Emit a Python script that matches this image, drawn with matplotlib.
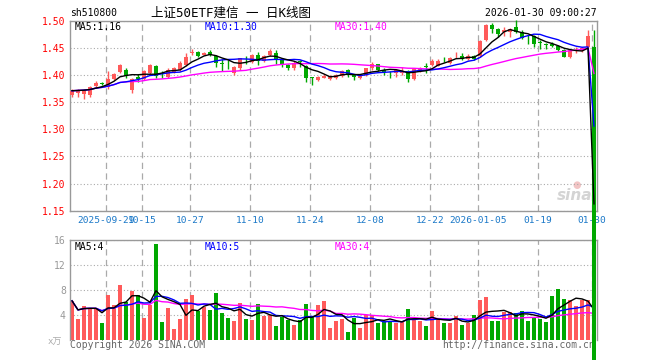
import numpy as np
import pandas as pd
import matplotlib
matplotlib.use("Agg")
import matplotlib.pyplot as plt

# daily K-line, 2025-09-19 .. 2026-01-30 (88 trading days)
open_ = [1.363, 1.366, 1.365, 1.363, 1.379, 1.385, 1.377, 1.393, 1.406, 1.410,
         1.372, 1.397, 1.393, 1.403, 1.416, 1.404, 1.397, 1.406, 1.410, 1.418,
         1.440, 1.443, 1.437, 1.443, 1.435, 1.422, 1.419, 1.404, 1.412, 1.432,
         1.424, 1.437, 1.426, 1.437, 1.441, 1.427, 1.418, 1.412, 1.425, 1.416,
         1.396, 1.391, 1.395, 1.392, 1.394, 1.398, 1.410, 1.400, 1.394, 1.400,
         1.412, 1.420, 1.409, 1.406, 1.404, 1.404, 1.408, 1.393, 1.408, 1.416,
         1.419, 1.417, 1.430, 1.423, 1.436, 1.435, 1.430, 1.435, 1.435, 1.464,
         1.493, 1.484, 1.479, 1.480, 1.489, 1.480, 1.467, 1.472, 1.460, 1.456,
         1.458, 1.453, 1.446, 1.434, 1.445, 1.445, 1.451, 1.451]
close = [1.371, 1.372, 1.373, 1.377, 1.386, 1.384, 1.393, 1.402, 1.418, 1.398,
         1.392, 1.392, 1.407, 1.418, 1.398, 1.403, 1.410, 1.412, 1.423, 1.434,
         1.442, 1.435, 1.441, 1.437, 1.423, 1.421, 1.418, 1.415, 1.431, 1.431,
         1.437, 1.426, 1.435, 1.445, 1.429, 1.418, 1.412, 1.423, 1.424, 1.395,
         1.394, 1.397, 1.399, 1.398, 1.400, 1.408, 1.402, 1.396, 1.398, 1.412,
         1.420, 1.409, 1.406, 1.405, 1.409, 1.408, 1.392, 1.411, 1.413, 1.415,
         1.426, 1.426, 1.429, 1.432, 1.437, 1.429, 1.435, 1.430, 1.463, 1.493,
         1.484, 1.475, 1.482, 1.484, 1.479, 1.469, 1.466, 1.457, 1.459, 1.455,
         1.453, 1.446, 1.434, 1.446, 1.446, 1.449, 1.472, 0.0]
high = [1.375, 1.374, 1.375, 1.379, 1.389, 1.388, 1.408, 1.404, 1.420, 1.412,
        1.394, 1.402, 1.409, 1.420, 1.418, 1.407, 1.412, 1.414, 1.425, 1.440,
        1.447, 1.445, 1.443, 1.446, 1.437, 1.430, 1.427, 1.417, 1.432, 1.435,
        1.438, 1.443, 1.437, 1.447, 1.446, 1.429, 1.420, 1.425, 1.427, 1.418,
        1.397, 1.399, 1.401, 1.400, 1.402, 1.410, 1.411, 1.401, 1.400, 1.413,
        1.424, 1.421, 1.412, 1.408, 1.411, 1.415, 1.409, 1.413, 1.415, 1.422,
        1.429, 1.430, 1.434, 1.434, 1.443, 1.441, 1.438, 1.437, 1.465, 1.494,
        1.495, 1.486, 1.488, 1.486, 1.501, 1.483, 1.474, 1.474, 1.464, 1.459,
        1.460, 1.455, 1.447, 1.448, 1.452, 1.451, 1.483, 1.483]
low = [1.360, 1.360, 1.356, 1.360, 1.377, 1.381, 1.375, 1.391, 1.404, 1.394,
       1.367, 1.387, 1.391, 1.401, 1.394, 1.394, 1.395, 1.404, 1.408, 1.416,
       1.437, 1.434, 1.436, 1.435, 1.415, 1.408, 1.411, 1.400, 1.410, 1.421,
       1.422, 1.418, 1.424, 1.435, 1.421, 1.415, 1.409, 1.410, 1.415, 1.387,
       1.381, 1.389, 1.394, 1.390, 1.392, 1.396, 1.397, 1.391, 1.392, 1.398,
       1.410, 1.407, 1.400, 1.394, 1.396, 1.400, 1.387, 1.391, 1.406, 1.404,
       1.417, 1.417, 1.424, 1.421, 1.431, 1.427, 1.428, 1.428, 1.433, 1.462,
       1.477, 1.470, 1.472, 1.470, 1.477, 1.466, 1.458, 1.452, 1.447, 1.447,
       1.451, 1.444, 1.433, 1.432, 1.441, 1.443, 1.449, 0.0]
volume = [6.3, 3.4, 5.5, 5.2, 5.1, 2.8, 7.2, 5.6, 8.8, 6.1,
          7.8, 7.3, 3.6, 5.6, 15.3, 2.9, 5.2, 1.8, 3.4, 6.6,
          7.2, 4.7, 5.3, 4.8, 7.6, 4.4, 3.6, 3.1, 6.0, 3.4,
          3.2, 5.8, 3.9, 4.0, 2.3, 3.7, 3.2, 2.4, 3.2, 5.8,
          3.7, 5.6, 6.3, 2.0, 3.1, 3.4, 1.3, 3.5, 2.0, 4.0,
          4.1, 2.8, 3.0, 3.1, 2.7, 3.1, 5.0, 3.3, 3.1, 2.3,
          4.7, 3.5, 2.7, 2.8, 3.9, 2.4, 2.8, 4.0, 6.4, 6.9,
          3.0, 3.1, 4.5, 4.5, 4.4, 4.6, 3.0, 3.7, 3.4, 2.9,
          7.0, 8.2, 6.6, 6.4, 5.4, 6.4, 6.4, 0.0]

date_idx = [6, 12, 20, 30, 40, 50, 60, 68, 78, 87]
date_labels = ["2025-09-29", "10-15", "10-27", "11-10", "11-24",
               "12-08", "12-22", "2026-01-05", "01-19", "01-30"]
price_ticks = [1.15, 1.20, 1.25, 1.30, 1.35, 1.40, 1.45, 1.50]
vol_ticks = [4, 8, 12, 16]

RED = "#ff5a5a"
GREEN = "#00a800"
GRID = "#aaaaaa"
FRAME = "#999999"
MONO = "DejaVu Sans Mono"
W, H = 660, 360

x = np.arange(len(close))
o = np.array(open_)
c = np.array(close)
up = c >= o
colors = np.where(up, RED, GREEN)

cs = pd.Series(close)
ma5 = cs.rolling(5, min_periods=1).mean()
ma10 = cs.rolling(10, min_periods=1).mean()
ma30 = cs.rolling(30, min_periods=1).mean()
vs = pd.Series(volume)
vma5 = vs.rolling(5, min_periods=1).mean()
vma10 = vs.rolling(10, min_periods=1).mean()
vma30 = vs.rolling(30, min_periods=1).mean()

fig = plt.figure(figsize=(6.6, 3.6), dpi=100)
ax_vol = fig.add_axes([70 / W, 1 - 340.3 / H, 527 / W, 100.3 / H])
ax = fig.add_axes([70 / W, 1 - 210.7 / H, 527 / W, 190 / H])
ax.set_zorder(3)
ax.patch.set_alpha(0)

xlim = (-0.33, 87.5)
grid_x = [i - 0.3 for i in date_idx]

# price panel
ax.vlines(x, low, high, colors=colors, lw=1, zorder=4, clip_on=False)
body_lo = np.minimum(o, c)
body_h = np.maximum(np.abs(c - o), 0.0012)
bars = ax.bar(x, body_h, bottom=body_lo, width=0.8, color=colors, zorder=5)
for b in bars:
    b.set_clip_on(False)
ax.plot(x, ma30, color="#ff00ff", lw=1, zorder=6)
ax.plot(x, ma10, color="#0000ff", lw=1, zorder=6)
ax.plot(x, ma5, color="black", lw=1, zorder=6)

ax.set_xlim(*xlim)
ax.set_ylim(1.15, 1.50)
ax.set_yticks(price_ticks)
ax.set_yticklabels([f"{t:.2f}" for t in price_ticks])
ax.set_xticks(grid_x)
ax.set_xticklabels(date_labels)
ax.tick_params(axis="y", length=0, pad=3, labelsize=7, labelcolor="red")
ax.tick_params(axis="x", length=0, pad=3.5, labelsize=6.8, labelcolor="#1a78c8")
for lab in ax.get_xticklabels() + ax.get_yticklabels():
    lab.set_family(MONO)
ax.yaxis.grid(True, ls=(0, (1, 2)), color=GRID, lw=0.8)
ax.xaxis.grid(True, ls=(0, (5, 3.5)), color=GRID, lw=0.9)
for s in ax.spines.values():
    s.set_color(FRAME)
    s.set_linewidth(1)

# volume panel
ax_vol.bar(x, volume, width=0.8, color=colors)
ax_vol.plot(x, vma30, color="#ff00ff", lw=1)
ax_vol.plot(x, vma10, color="#0000ff", lw=1)
ax_vol.plot(x, vma5, color="black", lw=1)
ax_vol.set_xlim(*xlim)
ax_vol.set_ylim(0, 16)
ax_vol.set_yticks(vol_ticks)
ax_vol.set_yticklabels([str(t) for t in vol_ticks])
ax_vol.set_xticks(grid_x)
ax_vol.set_xticklabels([])
ax_vol.tick_params(axis="y", length=0, pad=3, labelsize=7, labelcolor="#999999")
ax_vol.tick_params(axis="x", length=0)
for lab in ax_vol.get_yticklabels():
    lab.set_family(MONO)
ax_vol.yaxis.grid(True, ls=(0, (1, 2)), color=GRID, lw=0.8)
ax_vol.xaxis.grid(True, ls=(0, (5, 3.5)), color=GRID, lw=0.9)
ax_vol.set_axisbelow(True)
ax_vol.spines["bottom"].set_visible(False)
for k in ["left", "top", "right"]:
    ax_vol.spines[k].set_color(FRAME)
    ax_vol.spines[k].set_linewidth(1)


def ftext(px, py, s, target=fig, **kw):
    kw.setdefault("family", MONO)
    kw.setdefault("fontsize", 7)
    kw.setdefault("va", "center")
    if target is fig:
        return fig.text(px / W, 1 - py / H, s, **kw)
    return target.text(px / W, 1 - py / H, s, transform=fig.transFigure,
                       clip_on=False, **kw)


ftext(70, 13, "sh510800")
ftext(151, 13, "上证50ETF建信 一 日K线图", family=[MONO, "Noto Sans CJK SC"], fontsize=9)
ftext(597, 13, "2026-01-30 09:00:27", ha="right")

ftext(75, 27, "MA5:1.16", color="black")
ftext(205, 27, "MA10:1.30", color="#0000ff")
ftext(335, 27, "MA30:1.40", color="#ff00ff")
ftext(75, 247, "MA5:4", color="black")
ftext(205, 247, "MA10:5", color="#0000ff")
ftext(335, 247, "MA30:4", color="#ff00ff")

# sina watermark, partly under the last candle
ftext(575, 196, "sina", target=ax, color="#d4d4d4", fontsize=11,
      family="DejaVu Sans", style="italic", weight="bold", ha="center", zorder=1)
ftext(577, 185, "●", target=ax, color="#f2c4c4", fontsize=7,
      family="DejaVu Sans", ha="center", zorder=1)

ftext(48, 342, "x万", color="#aaaaaa", family=[MONO, "Noto Sans CJK SC"], fontsize=6.5)
ftext(70, 345, "Copyright 2026 SINA.COM", color="#666666")
ftext(442, 345, "http://finance.sina.com.cn", target=ax, color="#666666", zorder=1)

fig.savefig("out.png", dpi=100)
